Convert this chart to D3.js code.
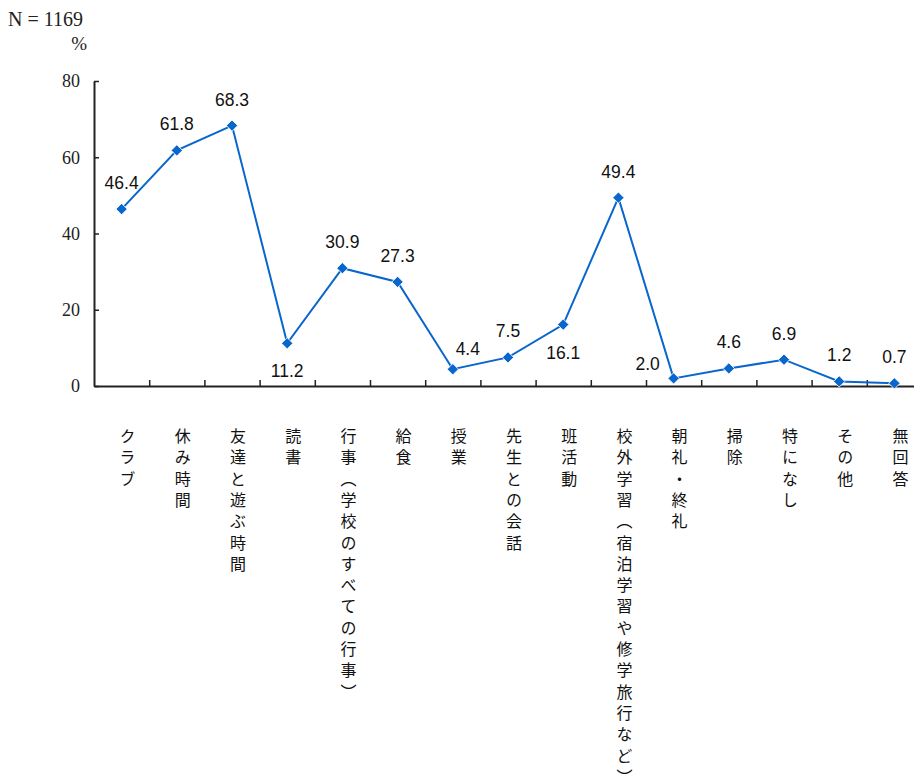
<!DOCTYPE html>
<html>
<head>
<meta charset="utf-8">
<script src="https://d3js.org/d3.v7.min.js"></script>
<style>
  body { margin: 0; background: #fff; }
  .val { font-family: "Liberation Sans", Arial, sans-serif; font-size: 17.5px; fill: #111; }
  .cat { font-family: "Noto Sans CJK JP", sans-serif; font-size: 16px; fill: #111; writing-mode: vertical-rl; letter-spacing: 5.3px; }
  .serif { font-family: "Liberation Serif", "Times New Roman", serif; fill: #222; }
</style>
</head>
<body>
<svg id="chart"></svg>
<script>
// categories and values (%)
var categories = ["クラブ", "休み時間", "友達と遊ぶ時間", "読書", "行事（学校のすべての行事）", "給食", "授業",
  "先生との会話", "班活動", "校外学習（宿泊学習や修学旅行など）", "朝礼・終礼", "掃除", "特になし", "その他", "無回答"];
var values = [46.4, 61.8, 68.3, 11.2, 30.9, 27.3, 4.4, 7.5, 16.1, 49.4, 2.0, 4.6, 6.9, 1.2, 0.7];
var yTicks = [0, 20, 40, 60, 80];
// where the value label sits, default above the point
var labelPlace = {3: "below", 6: "right", 8: "below", 10: "left"};

var W = 914, H = 776;
var x0 = 94, yTop = 81, yBase = 386, band = 55.2;

var svg = d3.select("#chart").attr("width", W).attr("height", H);

var x = d3.scaleBand()
    .domain(d3.range(categories.length))
    .range([x0, x0 + band * categories.length]);

var xEdge = d3.scaleLinear()
    .domain([0, categories.length])
    .range([x0, x0 + band * categories.length]);

var y = d3.scaleLinear()
    .domain([0, 80])
    .range([yBase, yTop]);

// y axis, ticks pointing inward
var yAxis = svg.append("g")
    .attr("transform", "translate(" + x0 + ",0)")
    .call(d3.axisLeft(y).tickValues(yTicks).tickSize(-5).tickPadding(14).tickSizeOuter(0));
yAxis.select(".domain").attr("stroke", "#222").attr("stroke-width", 2);
yAxis.selectAll(".tick line").attr("stroke", "#222").attr("stroke-width", 1.5);
yAxis.selectAll("text")
    .style("font-family", "'Liberation Serif', 'Times New Roman', serif")
    .style("font-size", "18px")
    .attr("fill", "#222");

// x axis, ticks on band edges pointing up
var xAxis = svg.append("g")
    .attr("transform", "translate(0," + yBase + ")")
    .call(d3.axisBottom(xEdge).tickValues(d3.range(1, categories.length)).tickSize(-6).tickSizeOuter(0).tickFormat(""));
xAxis.select(".domain").attr("stroke", "#222").attr("stroke-width", 2);
xAxis.selectAll(".tick line").attr("stroke", "#222").attr("stroke-width", 1.5);

var cx = function(d, i) { return x(i) + x.bandwidth() / 2; };

// line
var line = d3.line()
    .x(function(d, i) { return cx(d, i); })
    .y(function(d) { return y(d); });

svg.append("path")
    .datum(values)
    .attr("d", line)
    .attr("fill", "none")
    .attr("stroke", "#0866cc")
    .attr("stroke-width", 2);

// diamond markers
svg.selectAll(".pt")
    .data(values)
  .enter().append("path")
    .attr("class", "pt")
    .attr("d", d3.symbol(d3.symbolSquare, 64))
    .attr("transform", function(d, i) { return "translate(" + cx(d, i) + "," + y(d) + ") rotate(45)"; })
    .attr("fill", "#0866cc")
    .attr("stroke", "#fff")
    .attr("stroke-width", 0.8);

// value labels
svg.selectAll(".val")
    .data(values)
  .enter().append("text")
    .attr("class", "val")
    .attr("text-anchor", "middle")
    .attr("x", function(d, i) {
      var p = labelPlace[i];
      if (p == "right") return cx(d, i) + 15;
      if (p == "left") return cx(d, i) - 26;
      return cx(d, i);
    })
    .attr("y", function(d, i) {
      var p = labelPlace[i];
      if (p == "below") return y(d) + 34;
      if (p == "right") return y(d) - 14;
      if (p == "left") return y(d) - 8;
      return y(d) - 20;
    })
    .text(function(d) { return d.toFixed(1); });

// category labels, vertical
svg.selectAll(".cat")
    .data(categories)
  .enter().append("text")
    .attr("class", "cat")
    .attr("x", function(d, i) { return cx(d, i) + 6; })
    .attr("y", 428)
    .text(function(d) { return d; });

// header
svg.append("text").attr("class", "serif")
    .attr("x", 8).attr("y", 26)
    .style("font-size", "20px")
    .text("N = 1169");
svg.append("text").attr("class", "serif")
    .attr("x", 87).attr("y", 50)
    .attr("text-anchor", "end")
    .style("font-size", "19px")
    .text("%");
</script>
</body>
</html>
